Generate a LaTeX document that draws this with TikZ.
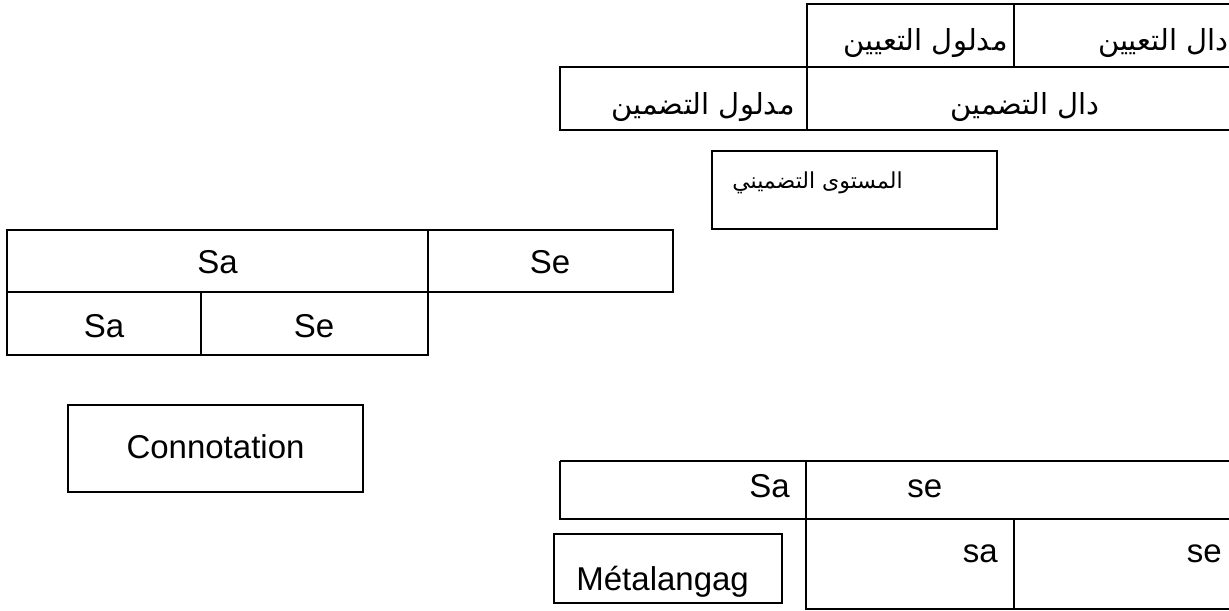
\documentclass[tikz,border=0pt]{standalone}
\usepackage{fontspec}
\setmainfont{Liberation Sans}
\newfontfamily\arabicfont[Script=Arabic]{DejaVu Sans}
\TeXXeTstate=1

\tikzset{
  grid/.style={line width=1pt},
  frame/.style={line width=0.75pt},
  lat/.style={inner sep=0pt, font=\fontsize{16.5}{19}\selectfont},
  ar/.style={inner sep=0pt, font=\arabicfont\fontsize{14.5}{17}\selectfont},
  arsmall/.style={inner sep=0pt, font=\arabicfont\fontsize{11}{13}\selectfont},
}

\begin{document}
\begin{tikzpicture}[x=0.5pt,y=-0.5pt]
\useasboundingbox (0,0) rectangle (1229,610);

% top table (Arabic)
\draw [grid] (807,4) rectangle (1300,67);
\draw [grid] (1014,4)--(1014,67);
\draw [grid] (560,67) rectangle (1300,130);
\draw [grid] (807,67)--(807,130);
\node [ar, anchor=base east] (dalT) at (1229,51) {\beginR دال التعيين\endR};
\node [ar, anchor=base east] (madT) at (1008,51) {\beginR مدلول التعيين\endR};
\node [ar, anchor=base] (dalD) at (1025,114) {\beginR دال التضمين\endR};
\node [ar, anchor=base east] (madD) at (795,114) {\beginR مدلول التضمين\endR};

% level box
\draw [frame] (712,151) rectangle (997,229);
\node [arsmall, anchor=base east] (level) at (903,188) {\beginR المستوى التضميني\endR};

% left table
\draw [grid] (7,230) rectangle (673,292);
\draw [grid] (428,230)--(428,292);
\draw [grid] (7,292) rectangle (428,355);
\draw [grid] (201,292)--(201,355);
\node [lat, anchor=base] (saA) at (217.5,273) {Sa};
\node [lat, anchor=base] (seA) at (550,273) {Se};
\node [lat, anchor=base] (saB) at (104,337) {Sa};
\node [lat, anchor=base] (seB) at (314,337) {Se};

% connotation
\draw [frame] (68,405) rectangle (363,492);
\node [lat, anchor=base] (conn) at (215.5,458) {Connotation};

% bottom table
\draw [grid] (560,461)--(1300,461);
\draw [grid] (560,461)--(560,519)--(1300,519);
\draw [grid] (806,461)--(806,609)--(1300,609);
\draw [grid] (1014,519)--(1014,609);
\node [lat, anchor=base east] (saC) at (790,497) {Sa};
\node [lat, anchor=base west] (seC) at (907,497) {se};
\node [lat, anchor=base east] (saD) at (998,562) {sa};
\node [lat, anchor=base east] (seD) at (1222,562) {se};

% metalangage
\draw [frame] (554,534) rectangle (782,603);
\node [lat, anchor=base west] (meta) at (576,590) {Métalangag};
\end{tikzpicture}
\end{document}
